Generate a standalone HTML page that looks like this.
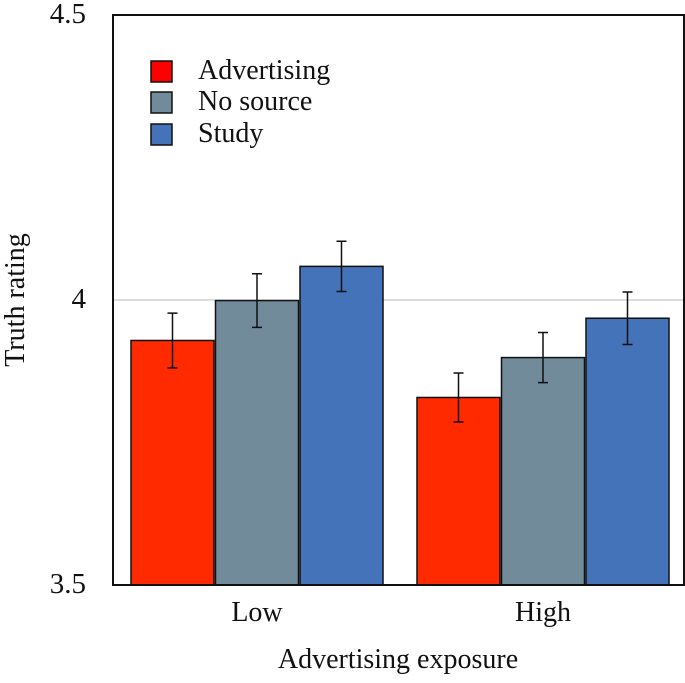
<!DOCTYPE html>
<html><head><meta charset="utf-8"><style>
body{margin:0;background:#fff}
text{font-family:"Liberation Serif","DejaVu Serif",serif !important;fill:#111}
</style></head><body>
<svg width="685" height="678" font-family="Liberation Serif, serif">
<g id="plot"></g>
</svg>
<script>
const categories=["Low","High"];
const seriesNames=["Advertising","No source","Study"];
const advertising=[3.929,3.829];
const noSource=[3.999,3.899];
const study=[4.059,3.968];
const advErr=[0.048,0.043];
const noSourceErr=[0.047,0.044];
const studyErr=[0.044,0.046];
const yTicks=[3.5,4,4.5];
const yTickLabels=["3.5","4","4.5"];

const L=113,R=684,T=15,B=585,ymin=3.5,ymax=4.5;
const y=v=>B-(v-ymin)/(ymax-ymin)*(B-T);
const groupCenters=[257,543];
const bw=83,gap=1.5;
const colors=["#ff2a00","#718b9b","#4573b9"];
const legendColors=["#ff0000","#718b9b","#4573b9"];
const vals=[advertising,noSource,study];
const errs=[advErr,noSourceErr,studyErr];
const ns="http://www.w3.org/2000/svg";
const g=document.getElementById('plot');
function mk(t,a,p){const e=document.createElementNS(ns,t);for(const k in a)e.setAttribute(k,a[k]);if(t==='text'){e.setAttribute('font-family','Liberation Serif, serif');e.style.fontFamily='"Liberation Serif", serif';}(p||g).appendChild(e);return e;}

let gl=mk('line',{x1:L,x2:R,y1:y(4),y2:y(4),stroke:'#bbb','stroke-width':1});



categories.forEach((c,ci)=>{
  vals.forEach((s,si)=>{
    const x0=groupCenters[ci]+(si-1)*(bw+gap)-bw/2;
    const r=mk('rect',{x:x0,y:y(s[ci]),width:bw,height:B-y(s[ci]),fill:colors[si],stroke:'#111','stroke-width':1.5});
    
    
    const cx=x0+bw/2,e=errs[si][ci];
    const eb=mk('path',{d:`M${cx-5},${y(s[ci]+e)}H${cx+5}M${cx},${y(s[ci]+e)}V${y(s[ci]-e)}M${cx-5},${y(s[ci]-e)}H${cx+5}`,stroke:'#111','stroke-width':1.5,fill:'none'});
    
    
  });
  const t=mk('text',{x:groupCenters[ci],y:621,'text-anchor':'middle','font-size':28});
  t.textContent=c;
  
  
});

yTicks.forEach((v,i)=>{
  const t=mk('text',{x:86,y:y(v)+8,'text-anchor':'end','font-size':29});
  t.textContent=yTickLabels[i];
  
  
});

const fr=mk('rect',{x:L,y:T,width:R-L,height:B-T,fill:'none',stroke:'#111','stroke-width':2});



seriesNames.forEach((n,i)=>{
  const ly=[61,92,124][i];
  const r=mk('rect',{x:151,y:ly,width:21,height:21,fill:legendColors[i],stroke:'#111','stroke-width':1.5});
  
  
  const t=mk('text',{x:198,y:ly+18,'font-size':28});
  t.textContent=n;
  
  
});

const xt=mk('text',{x:398,y:668,'text-anchor':'middle','font-size':28});
xt.textContent="Advertising exposure";


const yt=mk('text',{x:0,y:0,'text-anchor':'middle','font-size':28,transform:'translate(24,300) rotate(-90)'});
yt.textContent="Truth rating";


</script>
</body></html>
